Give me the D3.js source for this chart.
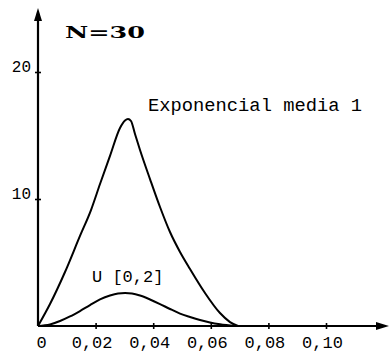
<!DOCTYPE html>
<html><head><meta charset="utf-8">
<script src="https://cdn.jsdelivr.net/npm/d3@7"></script>
<style>
html,body{margin:0;padding:0;background:#fff;}
svg{display:block;}
</style></head>
<body>
<svg id="chart" width="390" height="356"></svg>
<script>
// ---- data ----
const xTicks = [0, 0.02, 0.04, 0.06, 0.08, 0.10];
const xTickLabels = ["0", "0,02", "0,04", "0,06", "0,08", "0,10"];
const yTicks = [10, 20];
const yTickLabels = ["10", "20"];

const expX = [0, 0.00417, 0.00938, 0.01458, 0.0184, 0.02153, 0.025, 0.02847, 0.03021, 0.03125, 0.03229, 0.03368, 0.03542, 0.03889, 0.04236, 0.04583, 0.04931, 0.05278, 0.05799, 0.06319, 0.06667, 0.06944];
const expY = [0, 1.73, 4.25, 7.09, 9.13, 11.18, 13.39, 15.59, 16.18, 16.3, 16.14, 15.12, 13.86, 11.57, 9.37, 7.40, 5.83, 4.49, 2.60, 1.02, 0.31, 0];

const uX = [0, 0.00417, 0.00764, 0.01111, 0.01458, 0.01806, 0.02153, 0.025, 0.02778, 0.03021, 0.03264, 0.03542, 0.03889, 0.04236, 0.04583, 0.04931, 0.05278, 0.05625, 0.05972, 0.06319, 0.0684];
const uY = [0, 0.12, 0.39, 0.75, 1.18, 1.65, 2.09, 2.40, 2.56, 2.60, 2.56, 2.40, 2.09, 1.73, 1.34, 0.98, 0.71, 0.47, 0.28, 0.14, 0];

const titleText = "N=30";
const expLabel = "Exponencial media 1";
const uLabel = "U [0,2]";

// ---- layout ----
const svg = d3.select("#chart");
const x = d3.scaleLinear().domain([0, 0.10]).range([38, 326]);
const y = d3.scaleLinear().domain([0, 20]).range([326, 72]);
const x0 = x(0), y0 = y(0);
const xEnd = 389, yTop = 8;

const mono = "'Liberation Mono', 'DejaVu Sans Mono', monospace";

// axes lines
svg.append("line").attr("x1", x0).attr("y1", y0).attr("x2", x0).attr("y2", yTop + 10)
  .attr("stroke", "#000").attr("stroke-width", 2.2);
svg.append("line").attr("x1", x0).attr("y1", y0).attr("x2", xEnd - 10).attr("y2", y0)
  .attr("stroke", "#000").attr("stroke-width", 2);
// arrowheads
svg.append("path").attr("d", `M${x0},${yTop} L${x0 - 4},${yTop + 13} L${x0 + 4},${yTop + 13} Z`).attr("fill", "#000");
svg.append("path").attr("d", `M${xEnd},${y0} L${xEnd - 13},${y0 - 4} L${xEnd - 13},${y0 + 4} Z`).attr("fill", "#000");

// y axis ticks
const yAxis = d3.axisLeft(y).tickValues(yTicks).tickSizeInner(3).tickSizeOuter(0)
  .tickFormat((d, i) => yTickLabels[i]);
const gy = svg.append("g").attr("transform", `translate(${x0},0)`).call(yAxis);
gy.select(".domain").remove();
gy.selectAll(".tick line").attr("x1", 3).attr("stroke-width", 1.6);
gy.selectAll(".tick text").attr("x", -7).attr("dy", "-0.05em")
  .style("font-family", mono).style("font-size", "16px").attr("fill", "#000");

// x axis ticks
const xAxis = d3.axisBottom(x).tickValues(xTicks).tickSizeInner(3).tickSizeOuter(0)
  .tickFormat((d, i) => xTickLabels[i]);
const gx = svg.append("g").attr("transform", `translate(0,${y0})`).call(xAxis);
gx.select(".domain").remove();
gx.selectAll(".tick").filter(d => d === 0).select("line").remove();
gx.selectAll(".tick line").attr("y1", -3).attr("stroke-width", 1.6);
gx.selectAll(".tick text").attr("y", 22).attr("dy", 0)
  .attr("dx", d => d === 0 ? 3 : -4)
  .style("font-family", mono).style("font-size", "17px").attr("fill", "#000");

// curves
const line = d3.line().x(d => x(d[0])).y(d => y(d[1])).curve(d3.curveMonotoneX);
svg.append("path").datum(expX.map((v, i) => [v, expY[i]])).attr("d", line)
  .attr("fill", "none").attr("stroke", "#000").attr("stroke-width", 2);
svg.append("path").datum(uX.map((v, i) => [v, uY[i]])).attr("d", line)
  .attr("fill", "none").attr("stroke", "#000").attr("stroke-width", 2);

// labels
svg.append("text").attr("x", 65).attr("y", 38).text(titleText)
  .attr("textLength", 80).attr("lengthAdjust", "spacingAndGlyphs")
  .style("font-family", "'DejaVu Serif', 'Liberation Serif', serif").style("font-weight", "bold")
  .style("font-size", "17px").attr("fill", "#000");
svg.append("text").attr("x", 148).attr("y", 111).text(expLabel)
  .attr("textLength", 214).attr("lengthAdjust", "spacingAndGlyphs")
  .style("font-family", mono).style("font-size", "18px").attr("fill", "#000");
svg.append("text").attr("x", 92).attr("y", 282).text(uLabel)
  .style("font-family", mono).style("font-size", "17px").attr("fill", "#000");
</script>
</body></html>
